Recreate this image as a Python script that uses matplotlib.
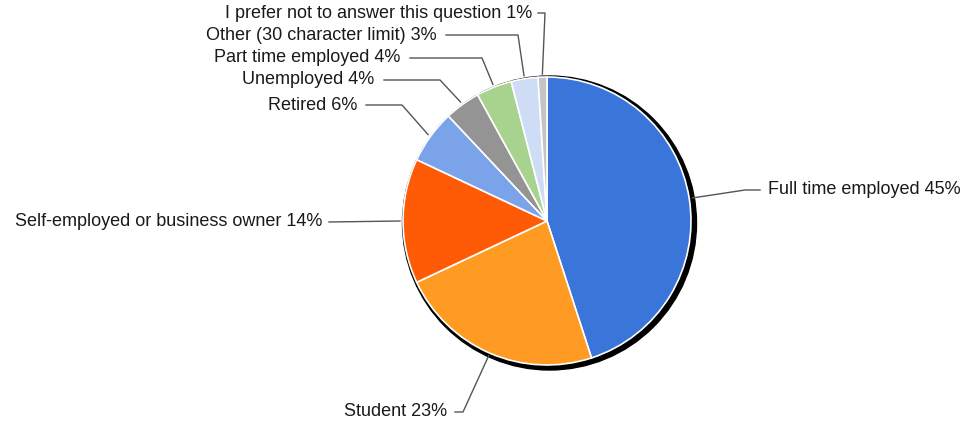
import numpy as np
import matplotlib
matplotlib.use("Agg")
import matplotlib.pyplot as plt
from matplotlib.patches import Circle

# Data
labels = ["Full time employed", "Student", "Self-employed or business owner",
          "Retired", "Unemployed", "Part time employed",
          "Other (30 character limit)", "I prefer not to answer this question"]
values = [45, 23, 14, 6, 4, 4, 3, 1]
colors = ["#3a76d9", "#ff9a22", "#ff5b06", "#7ba3e9", "#949494",
          "#a8d38f", "#cedcf5", "#c4c4c4"]

# Layout in pixel space (y measured up from bottom)
W, H = 967, 430
cx, cy, r = 547, 209, 144
# text anchor positions and elbow points (pixel coords, y from top)
text_pos = [(768, 190), (447, 412), (322, 222), (357, 105),
            (374, 80), (400, 58), (437, 35), (532, 13)]
elbows = [[(745, 190), (760, 190)],
          [(463, 412), (455, 412)],
          [(329, 222)],
          [(402, 105), (366, 105)],
          [(440, 80), (384, 80)],
          [(482, 58), (410, 58)],
          [(518, 35), (446, 35)],
          [(545, 13), (538, 13)]]

fig = plt.figure(figsize=(W / 100, H / 100), dpi=100)
ax = fig.add_axes([0, 0, 1, 1])

# dark rim behind the pie
ax.add_patch(Circle((cx + 2.5, cy - 2), r + 3, color="black", zorder=1))

wedges, _ = ax.pie(values, colors=colors, startangle=90, counterclock=False,
                   center=(cx, cy), radius=r, frame=True,
                   wedgeprops=dict(edgecolor="white", linewidth=1.2, zorder=2))
ax.set_xlim(0, W)
ax.set_ylim(0, H)
ax.set_aspect("equal")
ax.axis("off")

total = sum(values)
cum = 0
for i, v in enumerate(values):
    mid = cum + v / 2
    cum += v
    ang = np.deg2rad(90 - 360 * mid / total)
    ax_pt = (cx + (r + 3) * np.cos(ang), cy + (r + 3) * np.sin(ang))
    pts = [ax_pt] + [(x, H - y) for x, y in elbows[i]]
    xs, ys = zip(*pts)
    ax.plot(xs, ys, color="#555555", lw=1, zorder=3)
    tx, ty = text_pos[i]
    ha = "left" if i == 0 else "right"
    ax.text(tx, H - ty, f"{labels[i]} {v}%", ha=ha, va="center",
            fontsize=13, family="Liberation Sans", color="#1a1a1a")

fig.savefig("out.png", dpi=100)
